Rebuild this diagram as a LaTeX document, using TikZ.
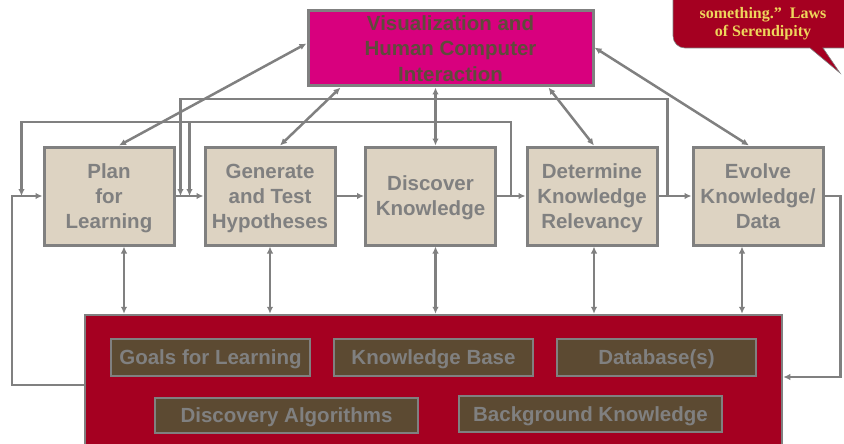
\documentclass[tikz,border=0pt]{standalone}
\usepackage{fontspec}
\setmainfont{Liberation Sans}
\newfontfamily\quotefont{Liberation Serif}
\usepackage{tikz}
\usetikzlibrary{arrows.meta}
\definecolor{linegray}{HTML}{808080}
\definecolor{stagefill}{HTML}{DDD3C2}
\definecolor{vismagenta}{HTML}{D8007E}
\definecolor{vistext}{HTML}{5F4B3B}
\definecolor{storered}{HTML}{A50021}
\definecolor{partfill}{HTML}{5C4A32}
\definecolor{quoteyellow}{HTML}{EED65C}

\begin{document}
\begin{tikzpicture}[x=1pt,y=-1pt,>={Latex[length=7pt,width=6.5pt]},
    stage/.style={draw=linegray,line width=3pt,fill=stagefill,minimum width=130pt,minimum height=98pt,
      align=center,text=linegray,text depth=-1pt,font=\fontsize{20.5}{25}\selectfont\bfseries},
    part/.style={draw=linegray,line width=2.5pt,fill=partfill,text=linegray,text depth=0pt,
      font=\fontsize{20.5}{25}\selectfont\bfseries},
    link/.style={draw=linegray,line width=2.5pt}]
        \useasboundingbox (0,0) rectangle (844,444);
        \clip (0,0) rectangle (844,444);
        % knowledge store
        \node[draw=linegray,line width=2.5pt,fill=storered,minimum width=697pt,minimum height=140pt] (store) at (433.5,385) {};
        \node[part,minimum width=199pt,minimum height=37pt] (goals) at (210.5,357.5) {Goals for Learning};
        \node[part,minimum width=199pt,minimum height=37pt] (kbase) at (433.5,357.5) {Knowledge Base};
        \node[part,minimum width=199pt,minimum height=37pt] (dbase) at (656.5,357.5) {Database(s)};
        \node[part,minimum width=263pt,minimum height=35pt] (algos) at (286.5,415.5) {Discovery Algorithms};
        \node[part,minimum width=263pt,minimum height=36pt] (bground) at (590.5,414) {Background Knowledge};
        % stages
        \node[stage] (plan) at (109,196) {Plan\\for\\Learning};
        \node[stage] (generate) at (270,196) {Generate\\and Test\\Hypotheses};
        \node[stage] (discover) at (430.5,196) {Discover\\Knowledge};
        \node[stage] (determine) at (592,196) {Determine\\Knowledge\\Relevancy};
        \node[stage] (evolve) at (758,196) {Evolve\\Knowledge/\\Data};
        \node[draw=linegray,line width=3pt,fill=vismagenta,minimum width=285pt,minimum height=75pt,align=center,
          text=vistext,text depth=0pt,font=\fontsize{20.5}{25.5}\selectfont\bfseries] (vis) at (450.5,48.5)
          {Visualization and\\Human Computer\\Interaction};
        % main flow
        \draw[link,->] (plan.east) -- (generate.west);
        \draw[link,->] (generate.east) -- (discover.west);
        \draw[link,->] (discover.east) -- (determine.west);
        \draw[link,->] (determine.east) -- (evolve.west);
        % to and from visualization
        \draw[link,<->] ([yshift=5pt]vis.west) -- ([xshift=10pt]plan.north);
        \draw[link,<->] ([xshift=-110pt]vis.south) -- ([xshift=10pt]generate.north);
        \draw[link,<->] ([xshift=5pt]discover.north |- vis.south) -- ([xshift=5pt]discover.north);
        \draw[link,<->] ([xshift=98pt]vis.south) -- ([xshift=2pt]determine.north);
        \draw[link,<->] ([yshift=1pt]vis.east) -- ([xshift=-9pt]evolve.north);
        % to and from the store
        \draw[link,<->] ([xshift=15pt]plan.south) -- ([xshift=15pt]plan.south |- store.north);
        \draw[link,<->] (generate.south) -- (generate.south |- store.north);
        \draw[link,<->] ([xshift=5pt]discover.south) -- ([xshift=5pt]discover.south |- store.north);
        \draw[link,<->] ([xshift=2pt]determine.south) -- ([xshift=2pt]determine.south |- store.north);
        \draw[link,<->] ([xshift=-16pt]evolve.south) -- ([xshift=-16pt]evolve.south |- store.north);
        % feedback loops
        \coordinate (jA) at ([xshift=9pt]determine.east);
        \coordinate (jB) at ([xshift=14pt]discover.east);
        \draw[link,->] (jA) -- ++(0,-97) -| ([xshift=-23pt]generate.west);
        \draw[link,->] (jB) -- ++(0,-74) -| ([xshift=-21pt]plan.west);
        \draw[link,->] ([xshift=-14pt,yshift=74pt]generate.west) -- ([xshift=-14pt]generate.west);
        \draw[link,->] (store.west) -- ++(-72,0) |- (plan.west);
        \draw[link,->] (evolve.east) -- ++(16,0) |- ([yshift=8pt]store.east);
        % callout
        \filldraw[fill=storered,draw=linegray,line width=0.6pt] (673,-40) [rounded corners=12pt] -- (673,48)
          [sharp corners] -- (810,48) -- (840,73) -- (823,48) [rounded corners=12pt] -- (870,48) [sharp corners] -- (870,-40) -- cycle;
        \node[align=center,text=quoteyellow,font=\quotefont\bfseries\fontsize{16}{18}\selectfont] (quote) at (763,23.5)
          {something.”\ \ Laws\\of Serendipity};
\end{tikzpicture}
\end{document}
